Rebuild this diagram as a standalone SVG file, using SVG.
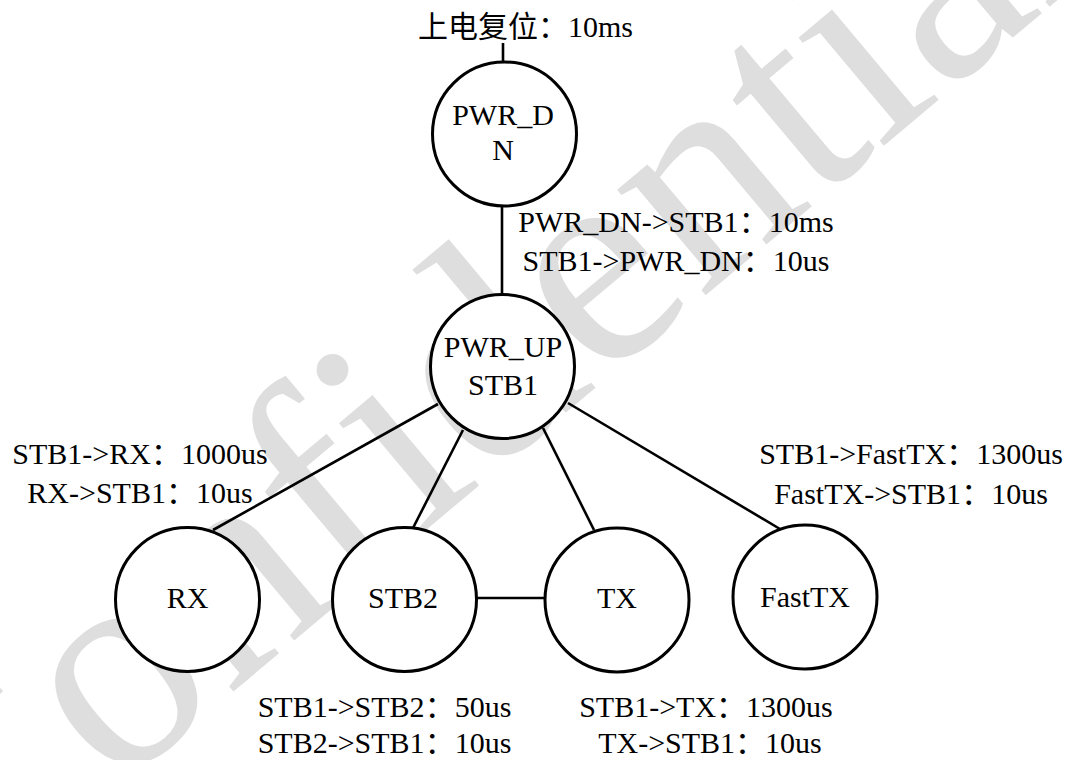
<svg xmlns="http://www.w3.org/2000/svg" width="1086" height="760" viewBox="0 0 1086 760">
<style>
  .t { font-family: "Liberation Serif", serif; font-size: 30px; fill: #000; text-anchor: middle; }
  .cjk { font-family: "Noto Sans CJK SC", sans-serif; }
  .node circle { fill: #fff; stroke: #000; stroke-width: 3; }
  .edges line { stroke: #000; stroke-width: 2.6; }
  .wm { font-family: "Liberation Serif", serif; font-size: 300px; fill: #dedede; }
</style>
<rect width="1086" height="760" fill="#fff"/>
<text class="wm" x="0" y="0" transform="translate(-40 921) rotate(-40)">Confidential</text>
<g id="connectors" class="edges">
  <line x1="503" y1="43" x2="503" y2="62"/>
  <line x1="502" y1="206" x2="502" y2="295"/>
  <line x1="438" y1="404" x2="213" y2="530"/>
  <line x1="463" y1="430" x2="413" y2="528"/>
  <line x1="543" y1="428" x2="594" y2="530"/>
  <line x1="568" y1="403" x2="780" y2="529"/>
  <line x1="476" y1="598" x2="547" y2="598"/>
</g>
<g id="node-pwr-dn" class="node">
  <circle cx="504.5" cy="134" r="72"/>
  <text class="t" x="503" y="125">PWR_D</text>
  <text class="t" x="503" y="160">N</text>
</g>
<g id="node-pwr-up" class="node">
  <circle cx="502.5" cy="366.5" r="72"/>
  <text class="t" x="503" y="357">PWR_UP</text>
  <text class="t" x="503" y="395">STB1</text>
</g>
<g id="node-rx" class="node">
  <circle cx="187.5" cy="599.5" r="72"/>
  <text class="t" x="187.5" y="608">RX</text>
</g>
<g id="node-stb2" class="node">
  <circle cx="404.5" cy="599.5" r="72"/>
  <text class="t" x="403" y="608">STB2</text>
</g>
<g id="node-tx" class="node">
  <circle cx="617" cy="600" r="72"/>
  <text class="t" x="617" y="608">TX</text>
</g>
<g id="node-fasttx" class="node">
  <circle cx="805" cy="597" r="72"/>
  <text class="t" x="805" y="607">FastTX</text>
</g>
<g id="labels">
  <text class="t" x="525.5" y="37"><tspan class="cjk">上电复位：</tspan>10ms</text>
  <text class="t" x="676" y="232">PWR_DN-&gt;STB1<tspan class="cjk">：</tspan>10ms</text>
  <text class="t" x="676" y="271">STB1-&gt;PWR_DN<tspan class="cjk">：</tspan>10us</text>
  <text class="t" x="140" y="464">STB1-&gt;RX<tspan class="cjk">：</tspan>1000us</text>
  <text class="t" x="140" y="503">RX-&gt;STB1<tspan class="cjk">：</tspan>10us</text>
  <text class="t" x="911" y="464">STB1-&gt;FastTX<tspan class="cjk">：</tspan>1300us</text>
  <text class="t" x="911" y="504">FastTX-&gt;STB1<tspan class="cjk">：</tspan>10us</text>
  <text class="t" x="384.5" y="717">STB1-&gt;STB2<tspan class="cjk">：</tspan>50us</text>
  <text class="t" x="384.5" y="753">STB2-&gt;STB1<tspan class="cjk">：</tspan>10us</text>
  <text class="t" x="706" y="717">STB1-&gt;TX<tspan class="cjk">：</tspan>1300us</text>
  <text class="t" x="710" y="753">TX-&gt;STB1<tspan class="cjk">：</tspan>10us</text>
</g>
</svg>
